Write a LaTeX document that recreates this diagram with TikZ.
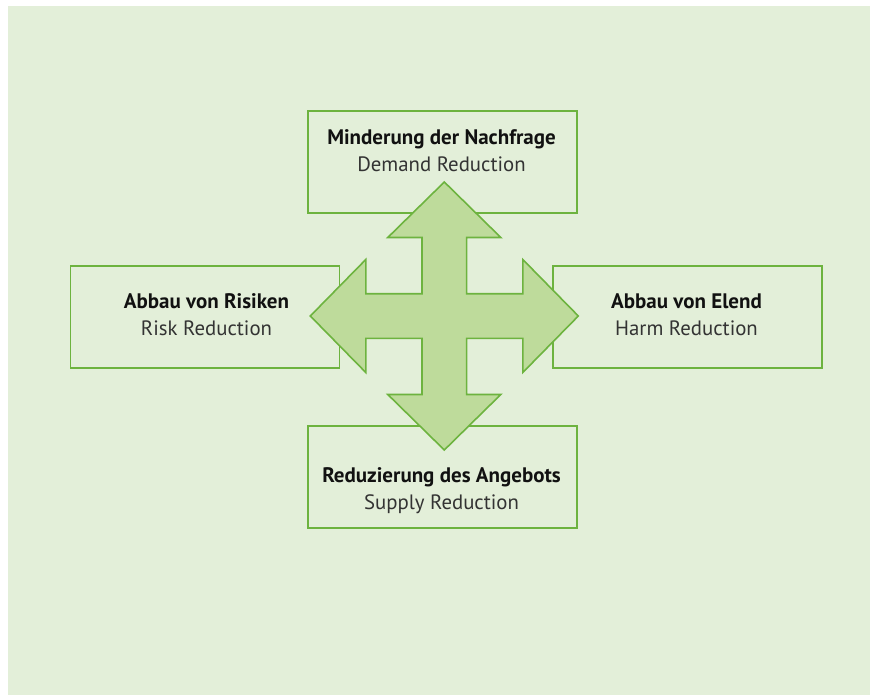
\documentclass[tikz,border=0pt]{standalone}
\usepackage{fontspec}
\setmainfont{PT Sans}
\definecolor{bg}{HTML}{E3EFD9}
\definecolor{grn}{HTML}{6DB33F}
\definecolor{arrowfill}{HTML}{BEDB9B}
\definecolor{titlecol}{HTML}{111111}
\definecolor{subcol}{HTML}{333333}
\tikzset{
  box/.style={draw=grn, line width=1.6pt, rectangle, minimum width=269pt, minimum height=102pt, inner sep=0pt},
  ttl/.style={font=\fontsize{21}{24}\selectfont\bfseries, text=titlecol, inner sep=0pt, anchor=base},
  sub/.style={font=\fontsize{20.8}{24}\selectfont, text=subcol, inner sep=0pt, anchor=base},
  crossline/.style={grn, line width=1.6pt, line join=miter, fill=arrowfill},
}
\begin{document}
\begin{tikzpicture}[x=1pt,y=-1pt]
\useasboundingbox (0,0) rectangle (870,695);
\fill[white] (0,0) rectangle (870,695);
\fill[bg] (8,6) rectangle (870,695);
% boxes
\node[box] (top) at (442.5,162) {};
\node[box] (left) at (205,317) {};
\node[box] (right) at (687.5,317) {};
\node[box] (bottom) at (442.5,477) {};
% cross arrow
\coordinate (c) at (444.3,316);
\draw[crossline] ([shift={(0,-134)}]c)
  -- ++(56.5,55.5) -- ++(-34.2,0) -- ++(0,56.2)
  -- ++(56.2,0) -- ++(0,-34.2) -- ++(55.5,56.5)
  -- ++(-55.5,56.5) -- ++(0,-34.2) -- ++(-56.2,0)
  -- ++(0,56.2) -- ++(34.2,0) -- ++(-56.5,55.5)
  -- ++(-56.5,-55.5) -- ++(34.2,0) -- ++(0,-56.2)
  -- ++(-56.2,0) -- ++(0,34.2) -- ++(-55.5,-56.5)
  -- ++(55.5,-56.5) -- ++(0,34.2) -- ++(56.2,0)
  -- ++(0,-56.2) -- ++(-34.2,0) -- cycle;
% texts
\node[ttl] (topT) at (441.5,145) {Minderung der Nachfrage};
\node[sub] (topS) at (441.5,171.5) {Demand Reduction};
\node[ttl] (leftT) at (206.5,308.5) {Abbau von Risiken};
\node[sub] (leftS) at (206.5,335) {Risk Reduction};
\node[ttl] (rightT) at (686.5,308.5) {Abbau von Elend};
\node[sub] (rightS) at (686.5,335) {Harm Reduction};
\node[ttl] (bottomT) at (441.5,482.5) {Reduzierung des Angebots};
\node[sub] (bottomS) at (441.5,509) {Supply Reduction};
\end{tikzpicture}
\end{document}
